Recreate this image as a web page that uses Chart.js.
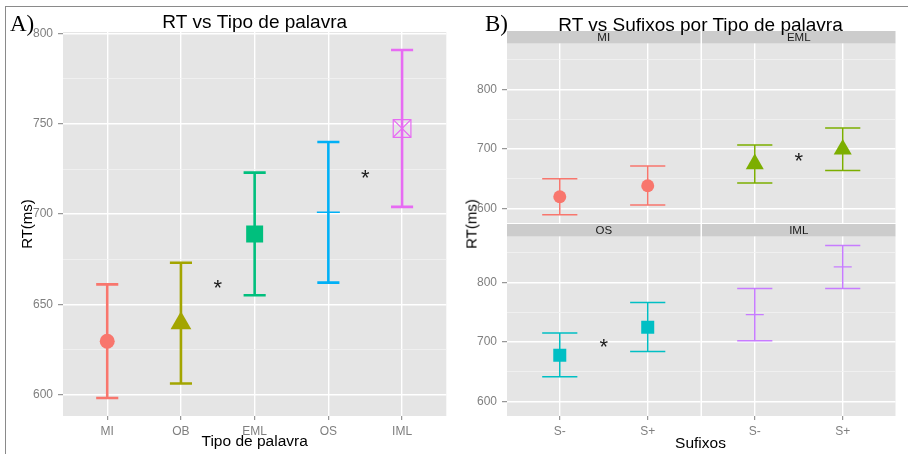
<!DOCTYPE html>
<html lang="pt">
<head>
<meta charset="UTF-8">
<title>RT vs Tipo de palavra</title>
<script src="https://cdn.jsdelivr.net/npm/chart.js"></script>
<style>
  body { margin: 0; background: #fff; font-family: 'Liberation Sans', Arial, sans-serif; }
  #page { position: relative; width: 909px; height: 454px; overflow: hidden; }
  #frame { position: absolute; left: 5px; top: 6px; width: 902px; height: 448px;
           border-top: 1px solid #8a8a8a; border-left: 1px solid #8a8a8a; }
  canvas { position: absolute; top: 0; }
  .tag { position: absolute; font-family: 'Liberation Serif', serif; font-size: 23px; line-height: 23px; top: 11.5px; }
  .txt { position: absolute; white-space: nowrap; color: #000; }
  #titleB { left: 700.5px; top: 14.6px; font-size: 19px; line-height: 19px; transform: translateX(-50%); }
  #xTitleB { left: 700.5px; top: 435px; font-size: 15.5px; line-height: 15.5px; transform: translateX(-50%); }
  #yTitleB { left: 471px; top: 224px; font-size: 15px; line-height: 15px; transform: translate(-50%, -50%) rotate(-90deg); }
</style>
</head>
<body>
<div id="page">
  <div id="frame"></div>
  <canvas id="chartA" width="460" height="454" style="left:0"></canvas>
  <canvas id="facet0" width="449" height="454" style="left:460px"></canvas>
  <canvas id="facet1" width="449" height="454" style="left:460px"></canvas>
  <canvas id="facet2" width="449" height="454" style="left:460px"></canvas>
  <canvas id="facet3" width="449" height="454" style="left:460px"></canvas>
  <div class="tag" style="left:10px">A)</div>
  <div class="tag" style="left:485px">B)</div>
  <div class="txt" id="titleB">RT vs Sufixos por Tipo de palavra</div>
  <div class="txt" id="xTitleB">Sufixos</div>
  <div class="txt" id="yTitleB">RT(ms)</div>
</div>

<script>
// ---- Painel A: RT por tipo de palavra (media e intervalo) ----
const tipos = ['MI', 'OB', 'EML', 'OS', 'IML'];
const rtMedia = [629.5, 639.5, 689, 701, 747.5];
const rtInf = [598, 606, 655, 662, 704];
const rtSup = [661, 673, 723, 740, 791];
const coresA = ['#F8766D', '#A3A500', '#00BF7D', '#00B0F6', '#E76BF3'];
const ticksA = [600, 650, 700, 750, 800];
const minorA = [625, 675, 725, 775];
const asteriscoAx = [2.5, 4.5];
const asteriscoAy = [662, 723];

// ---- Painel B: RT por sufixo, uma faceta por tipo de palavra ----
const sufixos = ['S-', 'S+'];
const facetas = ['MI', 'EML', 'OS', 'IML'];
const mediaMenos = [620, 675, 678, 746];
const mediaMais = [638.5, 699.5, 725, 826];
const infMenos = [590, 643, 642, 702];
const supMenos = [650, 707, 715, 790];
const infMais = [606, 664, 684, 790];
const supMais = [671.5, 735.5, 766.5, 862];
const coresB = ['#F8766D', '#7CAE00', '#00BFC4', '#C77CFF'];
const ticksB = [600, 700, 800];
const minorB = [650, 750, 850];
const asteriscoB = [null, 689, 700.5, null]; // y do asterisco entre S- e S+

Chart.defaults.font.family = "'Liberation Sans', Arial, sans-serif";

// fundo cinza do painel + faixa com o nome da faceta
const ggPanel = {
  id: 'ggPanel',
  beforeDraw(chart, args, opts) {
    const {ctx, chartArea: a} = chart;
    ctx.save();
    ctx.fillStyle = '#E5E5E5';
    ctx.fillRect(a.left, a.top, a.width, a.height);
    if (opts.strip) {
      ctx.fillStyle = '#CCCCCC';
      ctx.fillRect(a.left, a.top - 12.5, a.width, 12.5);
      ctx.fillStyle = '#1A1A1A';
      ctx.font = "11.5px 'Liberation Sans'";
      ctx.textAlign = 'center';
      ctx.textBaseline = 'middle';
      ctx.fillText(opts.strip, (a.left + a.right) / 2, a.top - 6);
    }
    ctx.restore();
  }
};

// barras de erro e asteriscos, posicionados pelas escalas do grafico
const errorBars = {
  id: 'errorBars',
  beforeDatasetsDraw(chart, args, opts) {
    const {ctx, scales: {x, y}} = chart;
    ctx.save();
    ctx.lineWidth = opts.lineWidth;
    opts.low.forEach((lo, i) => {
      const xv = i + 1;
      const px = x.getPixelForValue(xv);
      const pl = x.getPixelForValue(xv - opts.cap / 2);
      const pr = x.getPixelForValue(xv + opts.cap / 2);
      const yLo = y.getPixelForValue(lo);
      const yHi = y.getPixelForValue(opts.high[i]);
      ctx.strokeStyle = opts.colors[i];
      ctx.beginPath();
      ctx.moveTo(px, yLo); ctx.lineTo(px, yHi);
      ctx.moveTo(pl, yLo); ctx.lineTo(pr, yLo);
      ctx.moveTo(pl, yHi); ctx.lineTo(pr, yHi);
      ctx.stroke();
    });
    ctx.restore();
  },
  afterDatasetsDraw(chart, args, opts) {
    const {ctx, scales: {x, y}} = chart;
    ctx.save();
    ctx.font = "22px 'Liberation Sans'";
    ctx.textAlign = 'center';
    ctx.textBaseline = 'alphabetic';
    ctx.fillStyle = '#1A1A1A';
    opts.starX.forEach((sx, i) => {
      ctx.fillText('*', x.getPixelForValue(sx), y.getPixelForValue(opts.starY[i]) + 12.5);
    });
    ctx.restore();
  }
};

function escalaY(min, max, major, minor, showLabels, width, title) {
  const all = major.concat(minor).sort((a, b) => a - b);
  const isMinor = c => c.tick && minor.includes(c.tick.value);
  return {
    type: 'linear', min: min, max: max,
    afterBuildTicks: s => { s.ticks = all.map(v => ({value: v})); },
    afterFit: s => { s.width = width; },
    border: {display: false},
    grid: {
      color: c => isMinor(c) ? '#F2F2F2' : '#FFFFFF',
      lineWidth: c => isMinor(c) ? 0.8 : 1.4,
      drawTicks: showLabels,
      tickLength: 5,
      tickColor: c => isMinor(c) ? 'rgba(0,0,0,0)' : '#7F7F7F',
      tickWidth: 1
    },
    ticks: {
      display: showLabels,
      autoSkip: false,
      padding: 5,
      color: '#7F7F7F',
      font: {size: 12},
      callback: v => major.includes(v) ? String(v) : ''
    },
    title: title || {display: false}
  };
}

function escalaX(labels, showLabels, height, title) {
  return {
    type: 'linear', min: 0.4, max: labels.length + 0.6,
    afterBuildTicks: s => { s.ticks = labels.map((l, i) => ({value: i + 1})); },
    afterFit: s => { s.height = height; },
    border: {display: false},
    grid: {color: '#FFFFFF', lineWidth: 1.4, drawTicks: showLabels, tickLength: 4, tickColor: '#7F7F7F', tickWidth: 1},
    ticks: {
      display: showLabels,
      autoSkip: false,
      maxRotation: 0,
      padding: 4,
      color: '#7F7F7F',
      font: {size: 12},
      callback: v => labels[v - 1]
    },
    title: title || {display: false}
  };
}

// ---- grafico A ----
new Chart(document.getElementById('chartA'), {
  type: 'scatter',
  data: {
    datasets: [
      {
        data: tipos.map((t, i) => ({x: i + 1, y: rtMedia[i]})),
        pointStyle: ['circle', 'triangle', 'rect', 'line', 'rect'],
        pointRadius: [7.5, 12, 12, 11.5, 12.5],
        backgroundColor: coresA.map((c, i) => i === 4 ? 'rgba(0,0,0,0)' : c),
        borderColor: coresA,
        borderWidth: [0, 0, 0, 1.6, 1.2]
      },
      {
        data: [{x: 5, y: rtMedia[4]}],
        pointStyle: 'crossRot',
        pointRadius: 12.5,
        borderColor: coresA[4],
        borderWidth: 1.2
      }
    ]
  },
  options: {
    responsive: false,
    animation: false,
    events: [],
    layout: {padding: {left: 10, right: 7, top: 14.5, bottom: 0}},
    scales: {
      x: escalaX(tipos, true, 38, {
        display: true, text: 'Tipo de palavra', color: '#000',
        font: {size: 15.5, lineHeight: '18px'}, padding: {top: 0, bottom: 3.5}
      }),
      y: escalaY(588, 801, ticksA, minorA, true, 53, {
        display: true, text: 'RT(ms)', color: '#000',
        font: {size: 15, lineHeight: '17px'}, padding: {top: 9, bottom: 0}
      })
    },
    plugins: {
      legend: {display: false},
      tooltip: {enabled: false},
      title: {
        display: true, fullSize: false, text: 'RT vs Tipo de palavra', color: '#000',
        font: {size: 19, weight: 'normal', lineHeight: '17.5px'}, padding: {top: 0, bottom: 0}
      },
      ggPanel: {},
      errorBars: {low: rtInf, high: rtSup, colors: coresA, cap: 0.3, lineWidth: 2.6,
                  starX: asteriscoAx, starY: asteriscoAy}
    }
  },
  plugins: [ggPanel, errorBars]
});

// ---- facetas B ----
// area de cada painel em coordenadas do canvas (que comeca em x=460)
const colunas = [{left: 47, right: 240.5}, {left: 242, right: 435.5}];
const linhas = [{top: 43.5, bottom: 223}, {top: 236.5, bottom: 416}];
const formas = ['circle', 'triangle', 'rect', 'line'];
const raios = [6.5, 10.4, 9.2, 9];

facetas.forEach((nome, k) => {
  const col = colunas[k % 2];
  const lin = linhas[Math.floor(k / 2)];
  const showY = k % 2 === 0;
  const showX = k >= 2;
  const yWidth = showY ? 45 : 0;
  const xHeight = showX ? 38 : 0;
  new Chart(document.getElementById('facet' + k), {
    type: 'scatter',
    data: {
      datasets: [{
        data: [{x: 1, y: mediaMenos[k]}, {x: 2, y: mediaMais[k]}],
        pointStyle: formas[k],
        pointRadius: raios[k],
        backgroundColor: coresB[k],
        borderColor: coresB[k],
        borderWidth: formas[k] === 'line' ? 1.2 : 0
      }]
    },
    options: {
      responsive: false,
      animation: false,
      events: [],
      layout: {padding: {
        left: col.left - yWidth,
        right: 449 - col.right,
        top: lin.top,
        bottom: 454 - lin.bottom - xHeight
      }},
      scales: {
        x: escalaX(sufixos, showX, xHeight),
        y: escalaY(576, 877, ticksB, minorB, showY, yWidth)
      },
      plugins: {
        legend: {display: false},
        tooltip: {enabled: false},
        ggPanel: {strip: nome},
        errorBars: {
          low: [infMenos[k], infMais[k]], high: [supMenos[k], supMais[k]],
          colors: [coresB[k], coresB[k]], cap: 0.4, lineWidth: 1.5,
          starX: asteriscoB[k] === null ? [] : [1.5],
          starY: asteriscoB[k] === null ? [] : [asteriscoB[k]]
        }
      }
    },
    plugins: [ggPanel, errorBars]
  });
});
</script>
</body>
</html>
